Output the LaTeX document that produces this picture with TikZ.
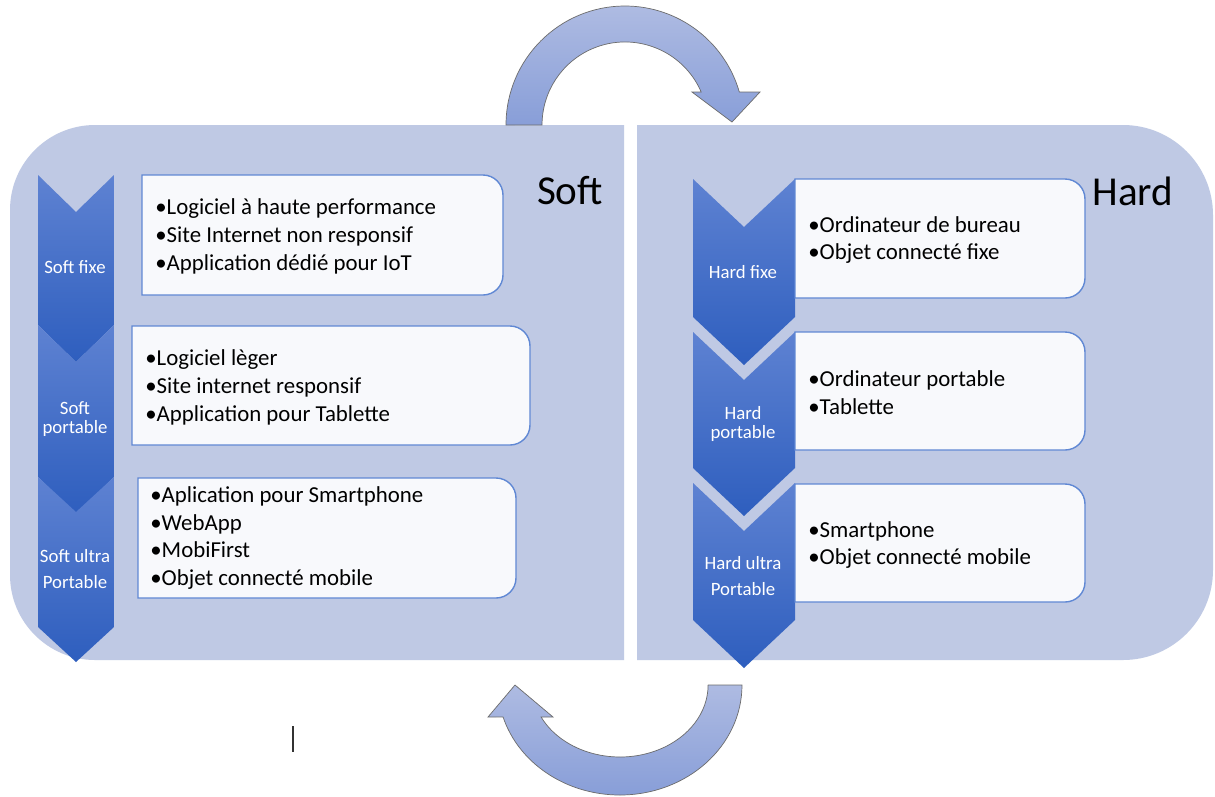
\documentclass[tikz,border=0pt]{standalone}
\usepackage{fontspec}
\setmainfont{Carlito}
\definecolor{panel}{RGB}{191,201,228}
\definecolor{boxfill}{RGB}{248,249,252}
\definecolor{boxline}{RGB}{96,136,212}
\definecolor{chevtop}{RGB}{94,130,210}
\definecolor{chevbot}{RGB}{46,94,190}
\definecolor{arrtop}{RGB}{174,187,226}
\definecolor{arrbot}{RGB}{136,158,216}
\tikzset{
  panelfill/.style={fill=panel},
  textbox/.style={fill=boxfill, draw=boxline, line width=0.8pt},
  chevron/.style={top color=chevtop, bottom color=chevbot, draw=none},
  cyclearrow/.style={top color=arrtop, bottom color=arrbot, draw=gray!85!black, line width=0.4pt},
  itemtext/.style={anchor=west, align=left, inner sep=0pt, text=black, font=\fontsize{13}{15.9}\selectfont},
  chevlabel/.style={align=center, inner sep=0pt, text=white, font=\fontsize{10.7}{11.3}\selectfont},
  chevlabelwide/.style={chevlabel, font=\fontsize{10.7}{15.3}\selectfont},
  paneltitle/.style={inner sep=0pt, text=black, font=\fontsize{23.4}{28}\selectfont}
}
\newcommand\mytbox[4]{%
  \filldraw[textbox] (#1,#2) -- ({#3-20},#2) arc[start angle=270,end angle=360,radius=20]
    -- (#3,{#4-20}) arc[start angle=0,end angle=90,radius=20] -- (#1,#4) -- cycle;}
\newcommand\mychev[5]{%
  \path[chevron] (#1,#3) -- ({(#1+#2)/2},{#3+#5}) -- (#2,#3) -- (#2,#4)
    -- ({(#1+#2)/2},{#4+#5}) -- (#1,#4) -- cycle;}
\begin{document}
\begin{tikzpicture}[x=0.02cm,y=-0.02cm]
\useasboundingbox[fill=white] (0,0) rectangle (1215,796);

% panels
\fill[panelfill] (624,125) -- (95,125) arc[start angle=270,end angle=180,radius=85]
  -- (10,575) arc[start angle=180,end angle=90,radius=85] -- (624,660) -- cycle;
\fill[panelfill] (637,125) -- (1123,125) arc[start angle=270,end angle=360,radius=90]
  -- (1213,570) arc[start angle=0,end angle=90,radius=90] -- (637,660) -- cycle;

% cycle arrows
\path[cyclearrow] (506,125) arc[start angle=180,end angle=343.9,radius=119]
  -- (760,92) -- (732,122) -- (692,92) -- (701.2,92)
  arc[start angle=336.6,end angle=180,radius=83] -- cycle;
\path[cyclearrow] (742,685) arc[start angle=0,end angle=163.1,x radius=122.1,y radius=110]
  -- (488,717) -- (515,685) -- (553,717) -- (541.1,717)
  arc[start angle=153.6,end angle=0,x radius=88.1,y radius=72] -- cycle;

% left chevrons
\mychev{38}{114}{175}{325}{37}
\mychev{38}{114}{325}{477}{37}
\mychev{38}{114}{477}{627}{35}
% right chevrons
\mychev{693}{795}{179}{317}{48}
\mychev{693}{795}{332}{468}{48}
\mychev{693}{795}{483}{620}{48}

% text boxes
\mytbox{142}{175}{503}{295}
\mytbox{132}{326}{530}{445}
\mytbox{138}{478}{516}{598}
\mytbox{795}{179}{1085}{298}
\mytbox{795}{332}{1085}{450}
\mytbox{795}{484}{1085}{602}

% titles
\node[paneltitle] (soft) at (570,191) {Soft};
\node[paneltitle] (hard) at (1133,191) {Hard};

% chevron labels
\node[chevlabel] (sfixe) at (75,267) {Soft fixe};
\node[chevlabel] (sport) at (75,419) {Soft\\portable};
\node[chevlabelwide] (sultra) at (75,569) {Soft ultra\\Portable};
\node[chevlabel] (hfixe) at (743,272) {Hard fixe};
\node[chevlabel] (hport) at (743,424) {Hard\\portable};
\node[chevlabelwide] (hultra) at (743,576) {Hard ultra\\Portable};

% items
\node[itemtext] (s1) at (155,236) {•Logiciel à haute performance\\•Site Internet non responsif\\•Application dédié pour IoT};
\node[itemtext] (s2) at (145,387) {•Logiciel lèger\\•Site internet responsif\\•Application pour Tablette};
\node[itemtext] (s3) at (150,538) {•Aplication pour Smartphone\\•WebApp\\•MobiFirst\\•Objet connecté mobile};
\node[itemtext] (h1) at (808,240) {•Ordinateur de bureau\\•Objet connecté fixe};
\node[itemtext] (h2) at (808,393) {•Ordinateur portable\\•Tablette};
\node[itemtext] (h3) at (808,545) {•Smartphone\\•Objet connecté mobile};

% text cursor
\draw[line width=1.1pt, black!80] (293,726) -- (293,752);
\end{tikzpicture}
\end{document}
